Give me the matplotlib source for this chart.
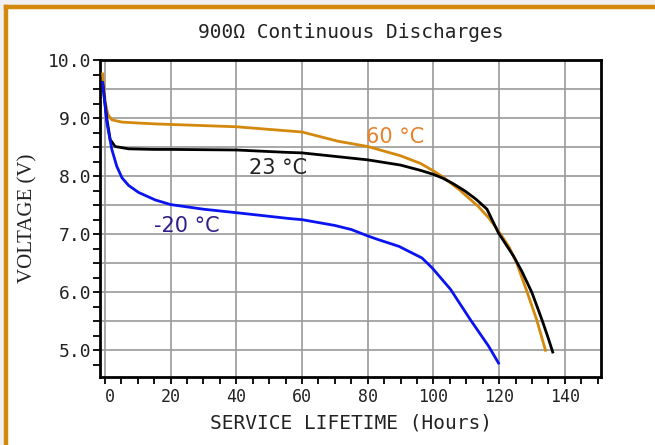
import numpy as np
import matplotlib
matplotlib.use('Agg')
import matplotlib.pyplot as plt
from matplotlib.lines import Line2D
from matplotlib.patches import Rectangle
from matplotlib.ticker import MultipleLocator, FixedLocator

# 60 C curve
hot_x = [-0.7, 0.1, 0.9, 2.1, 5.2, 15, 20, 40, 60, 71, 80, 90, 96, 100, 103, 108, 113.6, 117, 120.2, 123, 125.3, 128.4, 131.4, 134.1]
hot_v = [9.76, 9.27, 9.06, 8.97, 8.93, 8.90, 8.89, 8.85, 8.76, 8.60, 8.51, 8.35, 8.22, 8.09, 7.98, 7.76, 7.48, 7.27, 7.02, 6.78, 6.51, 6.02, 5.53, 5.0]

# 23 C curve
room_x = [-0.7, 0.6, 1.6, 3.1, 7.2, 15, 20, 40, 55, 60, 70, 80, 90, 96, 100, 103, 106, 109.7, 113, 116.3, 119.8, 124.4, 127, 130, 133, 135, 136.3]
room_v = [9.61, 8.98, 8.63, 8.51, 8.47, 8.46, 8.46, 8.45, 8.41, 8.40, 8.34, 8.28, 8.19, 8.10, 8.03, 7.96, 7.87, 7.74, 7.60, 7.43, 7.02, 6.62, 6.35, 5.99, 5.53, 5.2, 4.97]

# -20 C curve
cold_x = [-0.7, 0.6, 2.1, 3.6, 5.2, 7.2, 10.2, 15.3, 20, 30, 40, 56, 60, 70, 75, 80, 83, 89.5, 96.5, 99.6, 105.2, 111.2, 116.8, 119.8]
cold_v = [9.61, 8.92, 8.46, 8.17, 7.97, 7.84, 7.72, 7.59, 7.51, 7.43, 7.37, 7.27, 7.25, 7.15, 7.08, 6.97, 6.91, 6.79, 6.59, 6.42, 6.05, 5.53, 5.07, 4.78]

x_ticks = [0, 20, 40, 60, 80, 100, 120, 140]
y_ticks = [5.0, 6.0, 7.0, 8.0, 9.0, 10.0]

orange = '#d4880c'
mono = 'DejaVu Sans Mono'

fig = plt.figure(figsize=(6.55, 4.45), dpi=100)
fig.patch.set_facecolor('white')

# frame around the picture (gray margin + orange rule on top and left)
fig.add_artist(Rectangle((0, 1 - 5 / 445), 1, 5 / 445, transform=fig.transFigure, color='#f0f0f0', lw=0))
fig.add_artist(Rectangle((0, 0), 4 / 655, 1, transform=fig.transFigure, color='#f0f0f0', lw=0))
fig.add_artist(Line2D([6 / 655, 1], [1 - 7 / 445, 1 - 7 / 445], transform=fig.transFigure, color=orange, lw=3.2))
fig.add_artist(Line2D([6 / 655, 6 / 655], [0, 1 - 7 / 445], transform=fig.transFigure, color=orange, lw=3.2))

ax = fig.add_axes([100 / 655, 68 / 445, 501 / 655, 317 / 445])

ax.plot(hot_x, hot_v, color=orange, lw=2.0, zorder=3)
ax.plot(room_x, room_v, color='black', lw=2.0, zorder=3)
ax.plot(cold_x, cold_v, color='#0a14f0', lw=2.0, zorder=3)

ax.xaxis.set_major_locator(FixedLocator(x_ticks))
ax.xaxis.set_minor_locator(MultipleLocator(5))
ax.set_xticklabels([str(t) for t in x_ticks], family=mono, fontsize=12)

yt = np.arange(5.0, 10.01, 0.5)
ax.set_yticks(yt)
ax.set_yticklabels(['%.1f' % v if round(v, 1) in y_ticks else '' for v in yt], family=mono, fontsize=13)
ax.yaxis.set_minor_locator(MultipleLocator(0.25))

ax.set_xlim(-1.5, 151)
ax.set_ylim(4.54, 10.0)

# the "0" label sits a little to the right in the original
ax.get_xticklabels()[0].set_horizontalalignment('left')

ax.tick_params(which='both', direction='out', length=5, width=1.3, color='black', labelcolor='#222222')
ax.tick_params(axis='x', pad=3)
ax.tick_params(axis='y', pad=1)

ax.grid(True, which='major', color='#9a9a9a', lw=1.2)
ax.set_axisbelow(True)
for s in ax.spines.values():
    s.set_linewidth(2.0)
    s.set_color('black')

ax.set_xlabel('SERVICE LIFETIME (Hours)', family=mono, fontsize=14, color='#222222', labelpad=5)
ax.set_ylabel('VOLTAGE (V)', family='Liberation Serif', fontsize=15, color='#222222', labelpad=8)
ax.set_title('900\u03a9 Continuous Discharges', family=mono, fontsize=14, color='#222222', pad=16)

ax.text(79.5, 8.67, '60 \u00b0C', color='#e8822a', fontsize=15, va='center', ha='left')
ax.text(44, 8.14, '23 \u00b0C', color='#222222', fontsize=15, va='center', ha='left')
ax.text(15, 7.14, '-20 \u00b0C', color='#2e1f8a', fontsize=15, va='center', ha='left')

fig.savefig('out.png', dpi=100)
